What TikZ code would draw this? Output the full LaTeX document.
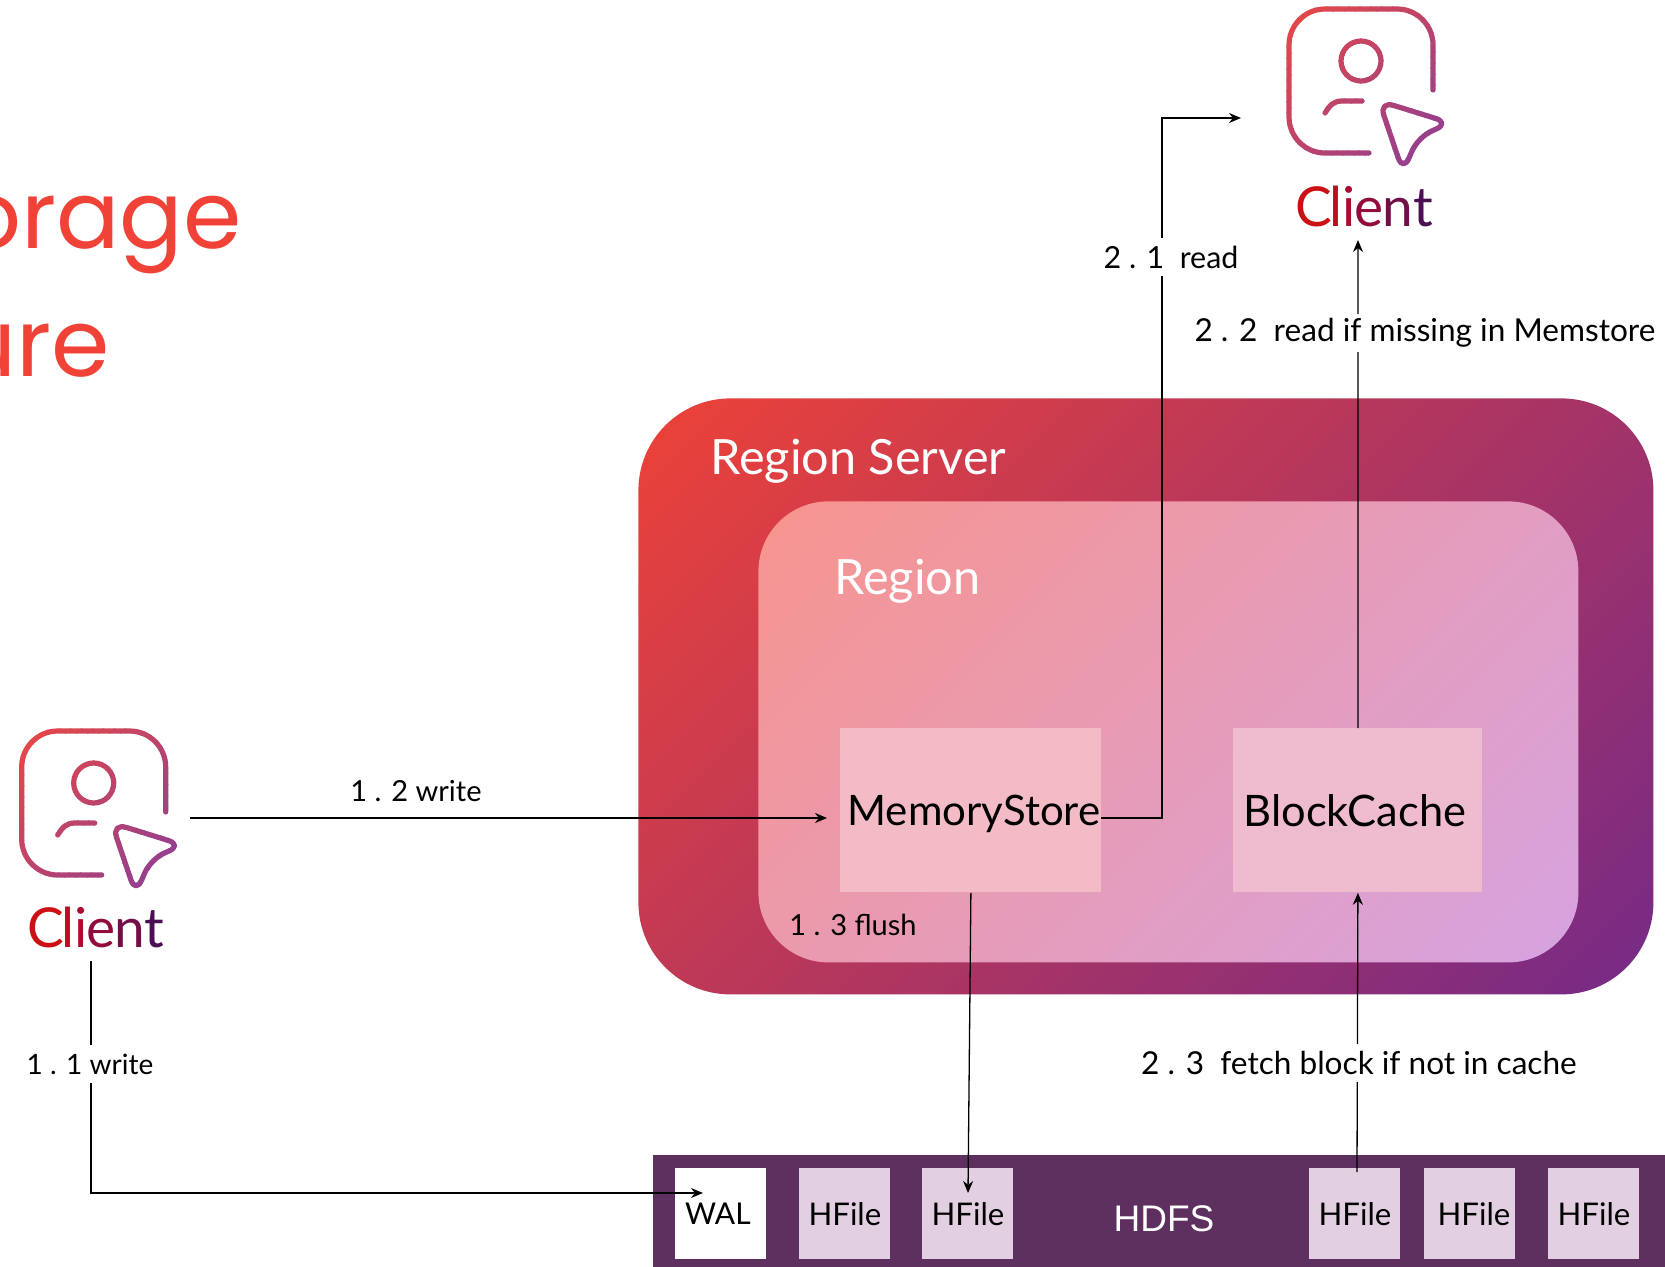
\documentclass[tikz,border=0pt]{standalone}
\usepackage{fontspec}
\setmainfont{Lato}
\newfontfamily\hdfsfont{Liberation Sans}
\newfontfamily\titlefont{Poppins}
\usepackage{xcolor}
\usetikzlibrary{arrows.meta}

\definecolor{titlered}{RGB}{240,66,54}
\definecolor{hdfsbar}{RGB}{94,48,96}
\definecolor{hfilebox}{RGB}{226,207,226}
\definecolor{iconred}{RGB}{230,72,70}
\definecolor{iconpurple}{RGB}{134,62,156}
\definecolor{serverred}{RGB}{236,66,56}
\definecolor{serverpurple}{RGB}{118,42,134}
\definecolor{regionred}{RGB}{247,148,142}
\definecolor{regionpurple}{RGB}{214,163,224}

\pgfdeclareverticalshading{servershade}{100bp}{color(0bp)=(serverpurple); color(15bp)=(serverpurple); color(85bp)=(serverred); color(100bp)=(serverred)}
\pgfdeclareverticalshading{regionshade}{100bp}{color(0bp)=(regionpurple); color(15bp)=(regionpurple); color(85bp)=(regionred); color(100bp)=(regionred)}

\tikzset{
  flow/.style={draw=black,line width=0.65pt,-{Stealth[length=6pt,width=5pt]}},
  plainbox/.style={anchor=north west,inner sep=0pt,text=black},
  filebox/.style={plainbox,fill=hfilebox,minimum width=45.5pt,minimum height=45.5pt,font=\fontsize{15.6}{18}\selectfont},
  storebox/.style={plainbox,minimum height=82pt,text depth=0pt,font=\fontsize{21}{25}\selectfont},
  linklabel/.style={inner sep=0.75pt,font=\fontsize{14.5}{17}\selectfont},
  gaplabel/.style={linklabel,fill=white,minimum height=19pt,font=\fontsize{15.8}{19}\selectfont},
  clientname/.style={anchor=base,inner sep=0pt,font=\fontsize{27.5}{33}\selectfont},
  titletext/.style={anchor=base east,inner sep=0pt,text=titlered,font=\titlefont\fontsize{47}{56}\selectfont},
  iconline/.style={line width=2.6pt,line cap=round,line join=round},
}

\newcommand{\clientword}{\textcolor[RGB]{204,16,20}{C}\kern-0.04em\textcolor[RGB]{190,12,36}{l}\kern-0.01em\textcolor[RGB]{170,12,50}{i}\kern-0.01em\textcolor[RGB]{145,12,60}{e}\kern-0.02em\textcolor[RGB]{115,14,72}{n}\kern-0.01em\textcolor[RGB]{75,16,84}{t}}

% icon in diagonal colour strips, #1 and #2 shift it
\newcommand{\clienticon}[2]{
  \foreach \strip in {0,...,29}{
    \pgfmathsetmacro{\stripa}{60+11*\strip}
    \pgfmathsetmacro{\stripb}{\stripa+12}
    \pgfmathsetmacro{\stripmix}{100-100*\strip/29}
    \begin{scope}[shift={(#1,#2)}]
      \clip (\stripa+20,-20) -- (\stripb+20,-20) -- (\stripb-220,220) -- (\stripa-220,220) -- cycle;
      \draw [iconline,draw=iconred!\stripmix!iconpurple,rounded corners=18pt] (193,90) -- (193,9) -- (49,9) -- (49,153) -- (129,153);
      \draw [iconline,draw=iconred!\stripmix!iconpurple] (121,61) circle (20);
      \draw [iconline,draw=iconred!\stripmix!iconpurple] (85,113) .. controls (90,105) and (94,101) .. (102,101) -- (122,101);
      \draw [iconline,draw=iconred!\stripmix!iconpurple,rounded corners=7.5pt] (175,112) -- (210,123) -- (178,137) -- (163,172) -- (139,101) -- cycle;
    \end{scope}
  }
}

\begin{document}
\begin{tikzpicture}[x=0.5pt,y=0.5pt,yscale=-1]
  \useasboundingbox (0,0) rectangle (1665,1267);

  % Title fragments
  \node (titletop) [titletext] at (242,249) {orage};
  \node (titlebottom) [titletext] at (110,377) {ure};

  %Shape: Region Server
  \node (regionserver) [plainbox,minimum width=507.5pt,minimum height=298pt,rounded corners=46pt,shading=servershade,shading angle=45] at (638,398) {};
  %Shape: Region
  \node (region) [plainbox,minimum width=410pt,minimum height=230.5pt,rounded corners=35pt,shading=regionshade,shading angle=45] at (758,501) {};
  %Shape: stores
  \node (memorystore) [storebox,minimum width=130.5pt,fill={rgb,255:red,242;green,187;blue,198}] at (840,728) {\hspace*{3pt}MemoryStore};
  \node (blockcache) [storebox,minimum width=124.5pt,fill={rgb,255:red,238;green,187;blue,207},font=\fontsize{21.7}{25}\selectfont] at (1233,728) {BlockCache\hspace*{3pt}};

  %Shape: HDFS bar
  \node (hdfs) [plainbox,fill=hdfsbar,minimum width=506pt,minimum height=56pt] at (653,1155) {};
  \node (wal) [filebox,fill=white,font=\fontsize{15}{18}\selectfont] at (675,1168) {WAL\hspace*{3pt}};
  \node (hfilea) [filebox] at (799,1168) {HFile};
  \node (hfileb) [filebox] at (922,1168) {HFile};
  \node (hfilec) [filebox] at (1309,1168) {HFile};
  \node (hfiled) [filebox] at (1424,1168) {\hspace*{4pt}HFile};
  \node (hfilee) [filebox] at (1548,1168) {HFile};

  % Text Node
  \node (servername) [anchor=base west,inner sep=0pt,text=white,font=\fontsize{24.3}{29}\selectfont] at (710,474) {Region Server};
  \node (regionname) [anchor=base west,inner sep=0pt,text=white,font=\fontsize{24.3}{29}\selectfont] at (834,594) {Region};
  \node (hdfsname) [inner sep=0pt,text=white,font=\hdfsfont\fontsize{18.5}{22}\selectfont] at (1164,1219) {HDFS};

  %Shape: client icons
  \clienticon{1240}{0}
  \clienticon{-27.3}{722}

  % Text Node
  \node (clienttop) [clientname] at (1364,227) {\clientword};
  \node (clientleft) [clientname] at (96,947) {\clientword};

  % free ends of the connectors
  \coordinate (leftout) at (190,818);
  \coordinate (memin) at (827,818);
  \coordinate (leftdown) at (91,961);
  \coordinate (leftcorner) at (91,1193);
  \coordinate (walin) at (703,1193);
  \coordinate (hfilebin) at (968,1193);
  \coordinate (memout) at (1101,818);
  \coordinate (readcorner) at (1162,818);
  \coordinate (readtop) at (1162,118);
  \coordinate (clientin) at (1241,118);
  \coordinate (cachetarget) at (1358,240);
  \coordinate (fetchout) at (1357,1172);

  \draw [flow] (leftout) -- (memin);
  \draw [flow] (leftdown) -- (leftcorner) -- (walin);
  \draw [flow] (memorystore.south) -- (hfilebin);
  \draw [flow] (memout) -- (readcorner) -- (readtop) -- (clientin);
  \draw [flow] (blockcache.north) -- (cachetarget);
  \draw [flow] (fetchout) -- (blockcache.south);

  % Text Node
  \node (writemem) [linklabel] at (416,791) {1 . 2 write};
  \node (writewal) [linklabel,fill=white,minimum height=19pt,font=\fontsize{14}{17}\selectfont] at (90,1064) {1 . 1 write};
  \node (flushlabel) [linklabel] at (853,925) {1 . 3 flush};
  \node (readlabel) [gaplabel,font=\fontsize{15.2}{18}\selectfont] at (1171,257) {2 . 1\ \ read};
  \node (missinglabel) [gaplabel] at (1425,333) {2 . 2\ \ read if missing in Memstore};
  \node (fetchlabel) [gaplabel] at (1359,1063) {2 . 3\ \ fetch block if not in cache};
\end{tikzpicture}
\end{document}
